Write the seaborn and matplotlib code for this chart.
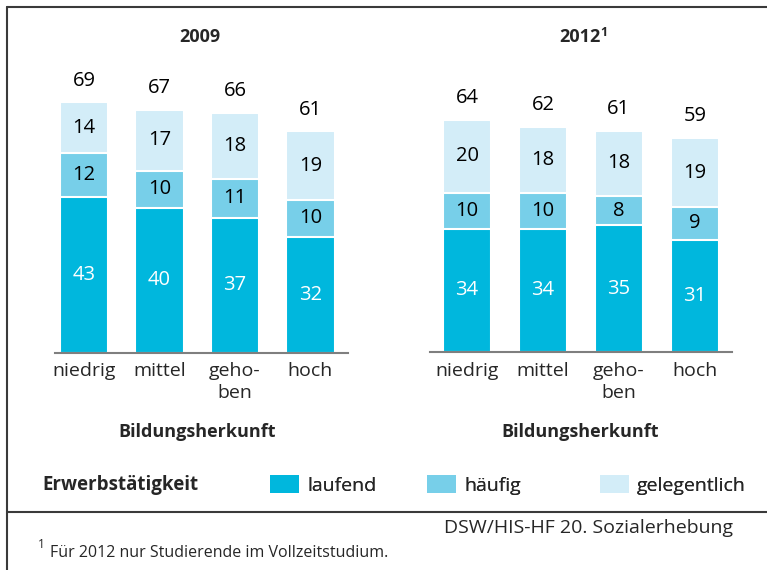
import matplotlib
matplotlib.use("Agg")
import matplotlib.pyplot as plt
import seaborn as sns
import pandas as pd
from matplotlib.patches import Patch
from matplotlib.lines import Line2D

# ---- data ----
categories = ["niedrig", "mittel", "geho-\nben", "hoch"]
series_names = ["laufend", "häufig", "gelegentlich"]
laufend_2009 = [43, 40, 37, 32]
haeufig_2009 = [12, 10, 11, 10]
gelegentlich_2009 = [14, 17, 18, 19]
total_2009 = [69, 67, 66, 61]
laufend_2012 = [34, 34, 35, 31]
haeufig_2012 = [10, 10, 8, 9]
gelegentlich_2012 = [20, 18, 18, 19]
total_2012 = [64, 62, 61, 59]

C_DARK = "#00B7DD"
C_MED = "#77CFE9"
C_LIGHT = "#D3EDF8"
FONT = "Open Sans"
NUM_FS = 14.5
TICK_FS = 14
BOLD_FS = 13

sns.set_theme(style="white")
plt.rcParams["font.family"] = [FONT, "DejaVu Sans"]

W, H = 767, 570
fig = plt.figure(figsize=(W / 100, H / 100), dpi=100)


def fx(px):
    return px / W


def fy(py):
    return 1 - py / H


def draw_panel(ax, lauf, haeu, gele, tot, xlim):
    df = pd.DataFrame({"cat": categories, "lauf": lauf, "haeu": haeu, "gele": gele})
    df["c1"] = df["lauf"]
    df["c2"] = df["lauf"] + df["haeu"]
    df["c3"] = df["c2"] + df["gele"]
    for col, c in [("c3", C_LIGHT), ("c2", C_MED), ("c1", C_DARK)]:
        sns.barplot(data=df, x="cat", y=col, order=categories, color=c,
                    saturation=1, width=0.64, edgecolor="white", linewidth=1.5,
                    ax=ax, errorbar=None)
    for i in range(len(categories)):
        l, h, g = df.loc[i, "lauf"], df.loc[i, "haeu"], df.loc[i, "gele"]
        ax.text(i, l / 2, str(l), ha="center", va="center", color="white", fontsize=NUM_FS)
        ax.text(i, l + h / 2, str(h), ha="center", va="center", color="black", fontsize=NUM_FS)
        ax.text(i, l + h + g / 2, str(g), ha="center", va="center", color="black", fontsize=NUM_FS)
        ax.text(i, df.loc[i, "c3"] + 6.0, str(tot[i]), ha="center", va="center",
                color="black", fontsize=NUM_FS)
    ax.set_ylim(0, 80)
    ax.set_xlim(*xlim)
    for s in ["left", "top", "right"]:
        ax.spines[s].set_visible(False)
    ax.spines["bottom"].set_color("#7f7f7f")
    ax.spines["bottom"].set_linewidth(1.5)
    ax.set_yticks([])
    ax.set_xlabel("")
    ax.set_ylabel("")
    ax.tick_params(axis="x", length=0, pad=7, labelsize=TICK_FS)
    for t in ax.get_xticklabels():
        t.set_linespacing(1.3)
        t.set_verticalalignment("top")
    ax.patch.set_alpha(0)


ax1 = fig.add_axes([fx(55), fy(352.5), fx(348) - fx(55), 290 / H])
draw_panel(ax1, laufend_2009, haeufig_2009, gelegentlich_2009, total_2009, (-0.384, 3.497))
ax2 = fig.add_axes([fx(430), fy(352), fx(732) - fx(430), 290 / H])
draw_panel(ax2, laufend_2012, haeufig_2012, gelegentlich_2012, total_2012, (-0.488, 3.49))

# titles
fig.text(fx(200), fy(37), "2009", ha="center", va="center", fontsize=BOLD_FS, fontweight="bold")
t2012 = fig.text(fx(580), fy(37), "2012", ha="center", va="center", fontsize=BOLD_FS, fontweight="bold")
fig.add_artist(matplotlib.text.Annotation("1", xy=(1, 1), xycoords=t2012, xytext=(-0.5, 1.5),
                                          textcoords="offset points", ha="left", va="top",
                                          fontsize=9, fontweight="bold"))

# x-axis titles
fig.text(fx(197), fy(432), "Bildungsherkunft", ha="center", va="center", fontsize=BOLD_FS, fontweight="bold")
fig.text(fx(580), fy(432), "Bildungsherkunft", ha="center", va="center", fontsize=BOLD_FS, fontweight="bold")

# legend
fig.text(fx(42), fy(485), "Erwerbstätigkeit", ha="left", va="center", fontsize=BOLD_FS + 0.5, fontweight="bold")
leg_x = [270, 427, 600]
for name, col, x in zip(series_names, [C_DARK, C_MED, C_LIGHT], leg_x):
    leg = fig.legend(handles=[Patch(facecolor=col, edgecolor="none")], labels=[name],
                     loc="center left", bbox_to_anchor=(fx(x), fy(485)), frameon=False,
                     fontsize=TICK_FS, handlelength=1.5, handleheight=1.0, handletextpad=0.4,
                     borderpad=0, borderaxespad=0)
    fig.add_artist(leg)

# frame lines
fig.add_artist(Line2D([fx(7), 1], [fy(7), fy(7)], color="#3a3a3a", linewidth=1.5))
fig.add_artist(Line2D([fx(7), fx(7)], [fy(7), 0], color="#3a3a3a", linewidth=1.5))
fig.add_artist(Line2D([fx(7), 1], [fy(512), fy(512)], color="#3a3a3a", linewidth=1.5))

# source and footnote
fig.text(fx(733), fy(528), "DSW/HIS-HF 20. Sozialerhebung", ha="right", va="center", fontsize=14)
fig.text(fx(50), fy(553), "Für 2012 nur Studierende im Vollzeitstudium.", ha="left",
         va="center", fontsize=11.5)
fig.text(fx(38), fy(545), "1", ha="left", va="center", fontsize=8.5)

fig.savefig("out.png", dpi=100)
